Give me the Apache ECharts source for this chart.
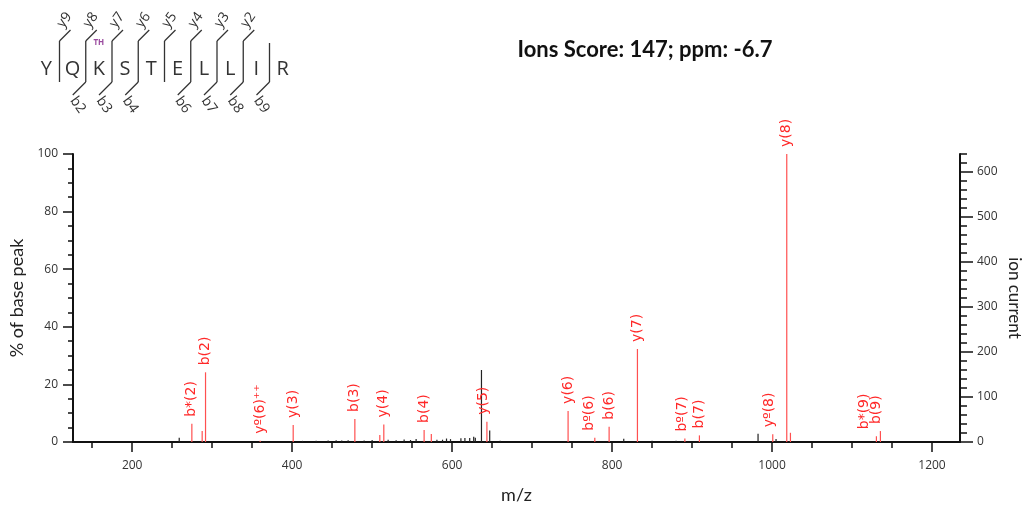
<!DOCTYPE html>
<html>
<head>
<meta charset="utf-8">
<script src="https://cdn.jsdelivr.net/npm/echarts@6/dist/echarts.min.js"></script>
<style>
  html, body { margin: 0; background: #fff; }
  #main { width: 1022px; height: 506px; }
</style>
</head>
<body>
<div id="main"></div>
<script>
// peptide header
var residues = ['Y', 'Q', 'K', 'S', 'T', 'E', 'L', 'L', 'I', 'R'];
var yIons = [9, 8, 7, 6, 5, 4, 3, 2];
var bIons = [2, 3, 4, 6, 7, 8, 9];
var modText = 'TH';
var modResidue = 2;
var title = 'Ions Score: 147; ppm: -6.7';

// matched ions (red, labelled)
var ionLabels = ['b*(2)', 'b(2)', 'yº(6)⁺⁺', 'y(3)', 'b(3)', 'y(4)', 'b(4)', 'y(5)', 'y(6)',
  'bº(6)', 'b(6)', 'y(7)', 'bº(7)', 'b(7)', 'yº(8)', 'y(8)', 'b*(9)', 'b(9)'];
var ionMz = [274.6, 291.7, 360.0, 401.3, 478.4, 514.6, 565.0, 643.5, 745.0,
  778.4, 796.3, 831.7, 891.0, 909.2, 1000.9, 1018.4, 1130.5, 1135.5];
var ionPct = [6.3, 24.2, 0.4, 5.9, 8.0, 6.1, 4.2, 7.0, 10.8,
  1.5, 5.3, 32.3, 1.2, 2.3, 2.7, 100, 2.0, 3.8];

// other matched peaks, no label
var extraMz = [287.5, 509.6, 574.0, 1023.0];
var extraPct = [3.8, 2.4, 2.8, 3.2];

// unmatched peaks (black)
var otherMz = [258.8, 413, 430, 445, 455, 462, 470, 490, 500, 520, 530, 540, 548, 555,
  581, 588, 593, 598, 611, 616, 622, 627, 629, 636.7, 647, 660, 700, 814.6, 850, 880, 982.5, 1005];
var otherPct = [1.5, 0.4, 0.4, 0.5, 0.6, 0.5, 0.6, 0.5, 0.7, 0.8, 0.6, 0.9, 0.7, 1.0,
  0.8, 0.8, 1.2, 1.0, 1.3, 1.4, 1.4, 1.8, 1.5, 25.0, 4.0, 0.4, 0.3, 1.1, 0.4, 0.4, 2.9, 1.0];

var basePeak = 640;
var xLabels = [200, 400, 600, 800, 1000, 1200];
var rightLabels = [0, 100, 200, 300, 400, 500, 600];

// small label shifts so crowded labels don't sit on each other (px)
var labelNudge = { 'y(5)': -4, 'bº(6)': -5, 'bº(7)': -3, 'yº(8)': -3, 'b*(9)': -12, 'b(9)': -4 };

function pairs(a, b) {
  return a.map(function (v, i) { return [v, b[i]]; });
}

var xMinor = [];
for (var m = 150; m <= 1200; m += 50) {
  if (xLabels.indexOf(m) < 0) xMinor.push(m);
}

function peakRenderer(stroke, labels) {
  return function (params, api) {
    var x = api.value(0);
    var p0 = api.coord([x, 0]);
    var p1 = api.coord([x, api.value(1)]);
    var kids = [{
      type: 'line',
      shape: { x1: p0[0], y1: p0[1], x2: p1[0], y2: p1[1] },
      style: { stroke: stroke, lineWidth: 1.2 }
    }];
    if (labels) {
      var t = labels[params.dataIndex];
      kids.push({
        type: 'text',
        x: p1[0] + (labelNudge[t] || 0),
        y: p1[1] - 7,
        rotation: Math.PI / 2,
        style: {
          text: t, fill: '#ff2828', font: '14px "DejaVu Sans"',
          align: 'left', verticalAlign: 'middle'
        }
      });
    }
    return { type: 'group', children: kids };
  };
}

// sequence header graphic
var seq = [];
var cut0 = 59.5, step = 26.25;
residues.forEach(function (r, j) {
  seq.push({
    type: 'text', x: cut0 + (j - 1) * step + 13.1, y: 69,
    style: { text: r, fill: '#333', font: '20px "Open Sans"', align: 'center', verticalAlign: 'middle' }
  });
});
for (var k = 1; k < residues.length; k++) {
  var cx = cut0 + (k - 1) * step;
  var hasY = yIons.indexOf(residues.length - k) >= 0;
  var hasB = bIons.indexOf(k) >= 0;
  seq.push({ type: 'line', shape: { x1: cx, y1: hasY ? 41 : 43, x2: cx, y2: 82 }, style: { stroke: '#333', lineWidth: 1.3 } });
  if (hasY) {
    seq.push({ type: 'line', shape: { x1: cx, y1: 41, x2: cx + 11, y2: 30 }, style: { stroke: '#333', lineWidth: 1.3 } });
    seq.push({
      type: 'text', x: cx + 5, y: 20, rotation: 0.95,
      style: { text: 'y' + (residues.length - k), fill: '#333', font: '14px "Open Sans"', align: 'center', verticalAlign: 'middle' }
    });
  }
  if (hasB) {
    seq.push({ type: 'line', shape: { x1: cx, y1: 82, x2: cx - 13, y2: 95 }, style: { stroke: '#333', lineWidth: 1.3 } });
    seq.push({
      type: 'text', x: cx - 8, y: 105, rotation: -0.95,
      style: { text: 'b' + k, fill: '#333', font: '14px "Open Sans"', align: 'center', verticalAlign: 'middle' }
    });
  }
}
seq.push({
  type: 'text', x: cut0 + (modResidue - 1) * step + 13.1, y: 43,
  style: { text: modText, fill: '#9a4a9e', font: 'bold 8px "Open Sans"', align: 'center', verticalAlign: 'middle' }
});
seq.push({
  type: 'text', x: 645, y: 50,
  style: { text: title, fill: '#111', font: 'bold 22px Lato', align: 'center', verticalAlign: 'middle' }
});

var chart = echarts.init(document.getElementById('main'));

var axisFont = { color: '#333', fontSize: 12, fontFamily: 'Open Sans' };
var nameFont = { color: '#222', fontSize: 18, fontFamily: 'Lato' };
var blackLine = { show: true, lineStyle: { color: '#111', width: 2 } };
var plain = function (v) { return String(v); };

var option = {
  animation: false,
  graphic: seq,
  grid: { left: 73, right: 62, top: 154, bottom: 64, containLabel: false, outerBoundsMode: 'none' },
  xAxis: [{
    type: 'value', min: 126, max: 1235, position: 'bottom',
    name: 'm/z', nameLocation: 'middle', nameGap: 44, nameTextStyle: nameFont,
    axisLine: blackLine,
    axisTick: { customValues: xLabels, length: 10, lineStyle: { color: '#111', width: 1.5 } },
    axisLabel: Object.assign({ customValues: xLabels, margin: 18, formatter: plain }, axisFont),
    splitLine: { show: false }
  }, {
    type: 'value', min: 126, max: 1235, position: 'bottom',
    axisLine: { show: false },
    axisTick: { customValues: xMinor, length: 6, lineStyle: { color: '#111', width: 1.5 } },
    axisLabel: { show: false },
    splitLine: { show: false }
  }],
  yAxis: [{
    type: 'value', min: 0, max: 100, interval: 20, position: 'left',
    name: '% of base peak', nameLocation: 'middle', nameGap: 46, nameTextStyle: nameFont,
    axisLine: blackLine,
    axisTick: { length: 10, lineStyle: { color: '#111', width: 1.5 } },
    minorTick: { show: true, splitNumber: 4, length: 5, lineStyle: { color: '#111', width: 1.5 } },
    axisLabel: Object.assign({ margin: 15 }, axisFont),
    splitLine: { show: false }
  }, {
    type: 'value', min: 0, max: basePeak, interval: 20, position: 'right',
    name: 'ion current', nameLocation: 'middle', nameRotate: -90, nameGap: 46,
    nameMoveOverlap: false,
    nameTextStyle: Object.assign({}, nameFont, { fontSize: 17 }),
    axisLine: blackLine,
    axisTick: { length: 7, lineStyle: { color: '#111', width: 1.5 } },
    axisLabel: Object.assign({ customValues: rightLabels, margin: 17 }, axisFont),
    splitLine: { show: false }
  }, {
    type: 'value', min: 0, max: basePeak, position: 'right',
    axisLine: { show: false },
    axisTick: { customValues: rightLabels, length: 13, lineStyle: { color: '#111', width: 1.5 } },
    axisLabel: { show: false },
    splitLine: { show: false }
  }],
  series: [{
    type: 'custom', name: 'unmatched', clip: false,
    renderItem: peakRenderer('#222', null),
    encode: { x: 0, y: 1 },
    data: pairs(otherMz, otherPct)
  }, {
    type: 'custom', name: 'matched', clip: false,
    renderItem: peakRenderer('#ff5050', null),
    encode: { x: 0, y: 1 },
    data: pairs(extraMz, extraPct)
  }, {
    type: 'custom', name: 'labelled', clip: false,
    renderItem: peakRenderer('#ff5050', ionLabels),
    encode: { x: 0, y: 1 },
    data: pairs(ionMz, ionPct)
  }]
};

chart.setOption(option);
</script>
</body>
</html>
